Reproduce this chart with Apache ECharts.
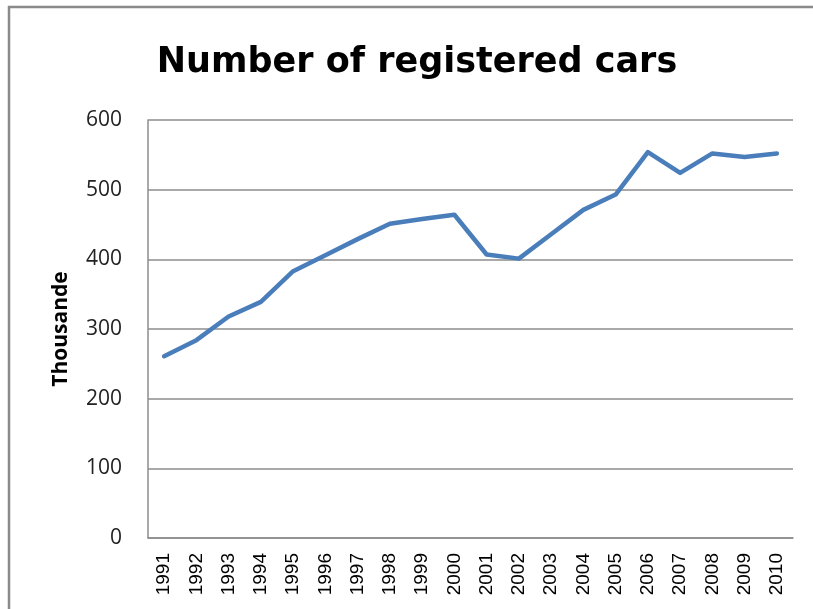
<!DOCTYPE html>
<html><head><meta charset="utf-8">
<script src="https://cdn.jsdelivr.net/npm/echarts@6/dist/echarts.min.js"></script>
<style>html,body{margin:0;padding:0;background:#fff}#c{width:813px;height:609px}</style>
</head><body><div id="c"></div>
<script>
const years = ['1991','1992','1993','1994','1995','1996','1997','1998','1999','2000','2001','2002','2003','2004','2005','2006','2007','2008','2009','2010'];
const cars = [261, 284, 318, 339, 383, 406, 429, 451, 458, 464, 407, 401, 436, 471, 493, 554, 524, 552, 547, 552];
const yTicks = {min: 0, max: 600, interval: 100};
const titleText = 'Number of registered cars';
const yName = 'Thousande';

const chart = echarts.init(document.getElementById('c'), null, {renderer: 'canvas'});
chart.setOption({
  animation: false,
  backgroundColor: '#fff',
  title: {
    text: titleText, left: 412, top: 40, textAlign: 'center',
    textStyle: {fontFamily: 'DejaVu Sans', fontWeight: 'bold', fontSize: 35, color: '#000'}
  },
  graphic: [{
    type: 'rect', shape: {x: 9, y: 7, width: 830, height: 640},
    style: {fill: 'none', stroke: '#8a8a8a', lineWidth: 2.5}, silent: true
  }],
  grid: {left: 148, right: 20, top: 120, bottom: 71},
  xAxis: {
    type: 'category', data: years, boundaryGap: true,
    axisLine: {lineStyle: {color: '#8c8c8c', width: 1.5}},
    axisTick: {show: false},
    axisLabel: {rotate: 90, fontFamily: 'Liberation Sans', fontSize: 19, color: '#000', margin: 15, interval: 0}
  },
  yAxis: {
    type: 'value', min: yTicks.min, max: yTicks.max, interval: yTicks.interval,
    name: yName, nameLocation: 'middle', nameGap: 76, nameRotate: 90,
    nameTextStyle: {fontFamily: 'Open Sans', fontWeight: 'bold', fontSize: 21, color: '#000'},
    axisLine: {show: true, lineStyle: {color: '#8c8c8c', width: 1.5}},
    axisTick: {show: false},
    axisLabel: {fontFamily: 'Open Sans', fontSize: 21, color: '#222', margin: 26},
    splitLine: {lineStyle: {color: '#8c8c8c', width: 1.5}}
  },
  series: [{
    type: 'line', data: cars, showSymbol: false, symbol: 'none',
    lineStyle: {color: '#4a7ebb', width: 4.5, join: 'round', cap: 'round'},
    itemStyle: {color: '#4a7ebb'}
  }]
});
</script></body></html>
